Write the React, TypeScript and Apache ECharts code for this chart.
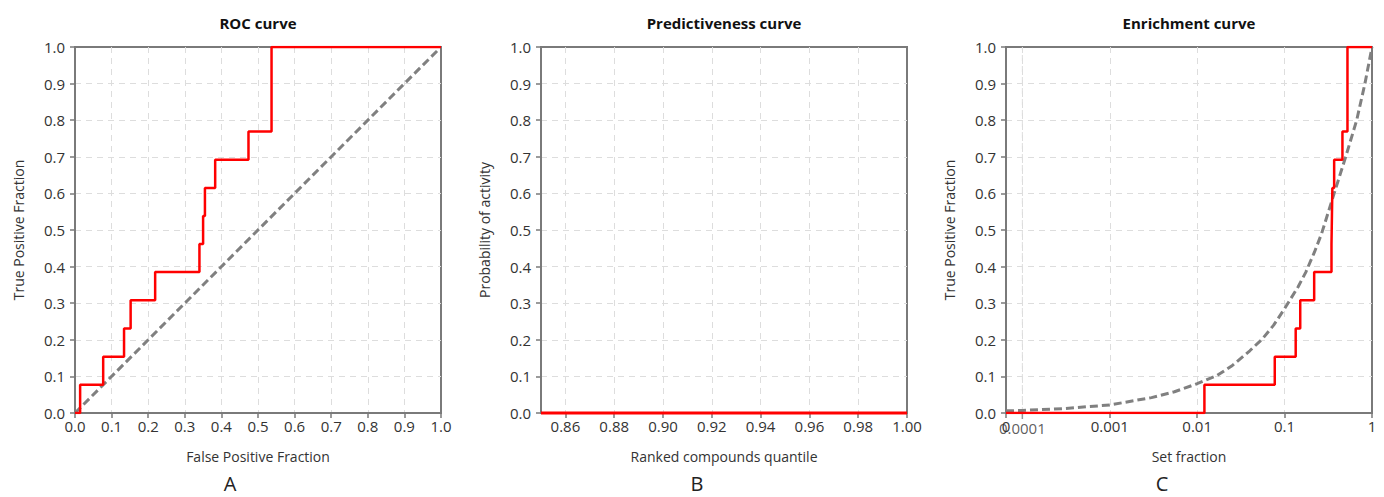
import React, { useEffect, useRef } from "react";
import * as echarts from "echarts";

// ROC curve (panel A)
const rocFpr = [0, 0.014, 0.077, 0.134, 0.152, 0.219, 0.34, 0.35, 0.355, 0.383, 0.474, 0.537, 1.0];
const rocTpr = [0, 0.077, 0.154, 0.231, 0.308, 0.385, 0.462, 0.538, 0.615, 0.692, 0.769, 1.0, 1.0];
const rocRandomFpr = [0, 1];
const rocRandomTpr = [0, 1];

// Predictiveness curve (panel B)
const predQuantile = [0.85, 1.0];
const predProbability = [0, 0];

// Enrichment curve (panel C)
const enrFraction = [6.5e-5, 0.0121, 0.0772, 0.134, 0.151, 0.218, 0.344, 0.348, 0.352, 0.369, 0.459, 0.524, 1.0];
const enrTpr = [0, 0.077, 0.154, 0.231, 0.308, 0.385, 0.462, 0.538, 0.615, 0.692, 0.769, 1.0, 1.0];
const enrRandomFraction = [
  6.5e-5, 1e-4, 3e-4, 0.001, 0.003, 0.0055, 0.01, 0.017, 0.0253, 0.04, 0.056, 0.075, 0.1, 0.143, 0.175, 0.22,
  0.265, 0.358, 0.5, 0.668, 0.83, 1,
];
const enrRandomTpr = [
  0.006, 0.007, 0.012, 0.022, 0.042, 0.058, 0.08, 0.103, 0.13, 0.17, 0.203, 0.24, 0.285, 0.345, 0.385, 0.44,
  0.49, 0.59, 0.7, 0.8, 0.9, 1.0,
];

// Axis ranges / tick labels
const unitMin = 0;
const unitMax = 1;
const unitStep = 0.1;
const quantileMin = 0.85;
const quantileMax = 1.0;
const quantileStep = 0.02;
const setFractionMin = 6.5e-5;
const setFractionMax = 1;
const setFractionMinLabel = "0";
const setFractionExtraTick = [0.0001];
const setFractionExtraLabel = ["0.0001"];

const titles = ["ROC curve", "Predictiveness curve", "Enrichment curve"];
const xNames = ["False Positive Fraction", "Ranked compounds quantile", "Set fraction"];
const yNames = ["True Positive Fraction", "Probability of activity", "True Positive Fraction"];
const panelLetters = ["A", "B", "C"];

const zip = (xs: number[], ys: number[]) => xs.map((x, i) => [x, ys[i]]);

const FONT = "'Open Sans', 'Noto Sans', sans-serif";
const AXIS_COLOR = "#7a7a7a";
const GRID_COLOR = "#dddddd";

export default function App() {
  const ref = useRef<HTMLDivElement>(null);

  useEffect(() => {
    document.body.style.margin = "0";
    if (!ref.current) return;
    const chart = echarts.init(ref.current, undefined, { renderer: "svg" });

    const gridLefts = [75, 541, 1006];
    const gridW = 366;
    const gridTop = 47;
    const gridH = 366;

    const axisLine = { show: true, onZero: false, lineStyle: { color: AXIS_COLOR, width: 2 } };
    const splitLine = {
      show: true,
      showMinLine: false,
      showMaxLine: false,
      lineStyle: { color: GRID_COLOR, type: [6, 5] as any, width: 1 },
    };
    const axisTick = { show: true, length: 5, lineStyle: { color: AXIS_COLOR, width: 1.5 } };
    const labelBase = { color: "#333", fontSize: 15, fontFamily: FONT };
    const nameStyle = { color: "#333", fontSize: 14, fontFamily: FONT };

    const grids = gridLefts.map((l) => ({
      left: l,
      top: gridTop,
      width: gridW,
      height: gridH,
      show: true,
      borderColor: AXIS_COLOR,
      borderWidth: 2,
      backgroundColor: "transparent",
    }));

    const yAxes = [0, 1, 2].map((i) => ({
      type: "value",
      gridIndex: i,
      min: unitMin,
      max: unitMax,
      interval: unitStep,
      name: yNames[i],
      nameLocation: "middle",
      nameGap: 50,
      nameTextStyle: nameStyle,
      axisLine,
      axisTick,
      splitLine,
      axisLabel: { ...labelBase, margin: 10, formatter: (v: number) => v.toFixed(1) },
    }));

    const xAxes: any[] = [
      {
        type: "value",
        gridIndex: 0,
        min: unitMin,
        max: unitMax,
        interval: unitStep,
        name: xNames[0],
        nameLocation: "middle",
        nameGap: 36,
        nameTextStyle: nameStyle,
        axisLine,
        axisTick,
        splitLine,
        axisLabel: { ...labelBase, margin: 5, formatter: (v: number) => v.toFixed(1) },
      },
      {
        type: "value",
        gridIndex: 1,
        min: quantileMin,
        max: quantileMax,
        minInterval: quantileStep,
        maxInterval: quantileStep,
        splitNumber: 7,
        name: xNames[1],
        nameLocation: "middle",
        nameGap: 36,
        nameTextStyle: nameStyle,
        axisLine,
        axisTick,
        splitLine,
        axisLabel: {
          ...labelBase,
          margin: 5,
          showMinLabel: false,
          formatter: (v: number) => v.toFixed(2),
        },
      },
      {
        type: "log",
        logBase: 10,
        gridIndex: 2,
        min: setFractionMin,
        max: setFractionMax,
        name: xNames[2],
        nameLocation: "middle",
        nameGap: 36,
        nameTextStyle: nameStyle,
        axisLine,
        axisTick,
        splitLine,
        axisLabel: {
          ...labelBase,
          margin: 5,
          showMinLabel: true,
          showMaxLabel: true,
          formatter: (v: number) => (v < 9e-5 ? setFractionMinLabel : String(parseFloat(v.toPrecision(3)))),
        },
      },
    ];

    const red = { color: "#ff0000", width: 2.5 };
    const grey = { color: "#808080", width: 3, type: [8, 4] as any };

    const series: any[] = [
      {
        type: "line",
        xAxisIndex: 0,
        yAxisIndex: 0,
        data: zip(rocRandomFpr, rocRandomTpr),
        symbol: "none",
        lineStyle: grey,
      },
      {
        type: "line",
        xAxisIndex: 0,
        yAxisIndex: 0,
        data: zip(rocFpr, rocTpr),
        step: "end",
        symbol: "none",
        lineStyle: red,
      },
      {
        type: "line",
        xAxisIndex: 1,
        yAxisIndex: 1,
        data: zip(predQuantile, predProbability),
        symbol: "none",
        clip: false,
        lineStyle: { color: "#ff0000", width: 3 },
      },
      // extra grid line for the 0.0001 tick of the log axis
      {
        type: "line",
        xAxisIndex: 2,
        yAxisIndex: 2,
        data: [
          [setFractionExtraTick[0], unitMin],
          [setFractionExtraTick[0], unitMax],
        ],
        symbol: "none",
        silent: true,
        z: 1,
        lineStyle: { color: GRID_COLOR, type: [6, 5], width: 1 },
      },
      // tick mark + label for 0.0001
      {
        type: "scatter",
        xAxisIndex: 2,
        yAxisIndex: 2,
        data: [[setFractionExtraTick[0], unitMin]],
        symbol: "rect",
        symbolSize: [1.5, 5],
        symbolOffset: [0, 3.5],
        clip: false,
        silent: true,
        z: 1,
        itemStyle: { color: AXIS_COLOR },
        label: {
          show: true,
          position: "bottom",
          distance: 1,
          formatter: () => setFractionExtraLabel[0],
          color: "#333",
          fontSize: 15,
          fontFamily: FONT,
        },
      },
      {
        type: "line",
        xAxisIndex: 2,
        yAxisIndex: 2,
        data: zip(enrRandomFraction, enrRandomTpr),
        symbol: "none",
        lineStyle: grey,
        z: 3,
      },
      {
        type: "line",
        xAxisIndex: 2,
        yAxisIndex: 2,
        data: zip(enrFraction, enrTpr),
        step: "end",
        symbol: "none",
        z: 4,
        lineStyle: red,
      },
    ];

    const titleCenters = gridLefts.map((l) => l + gridW / 2);
    const letterCenters = [230, 697, 1162];

    const graphic: any[] = [
      ...titles.map((t, i) => ({
        type: "text",
        x: titleCenters[i],
        y: 23,
        style: {
          text: t,
          align: "center",
          verticalAlign: "middle",
          fontSize: 15,
          fontWeight: "bold",
          fontFamily: FONT,
          fill: "#111",
        },
      })),
      ...panelLetters.map((t, i) => ({
        type: "text",
        x: letterCenters[i],
        y: 483,
        style: {
          text: t,
          align: "center",
          verticalAlign: "middle",
          fontSize: 20,
          lineHeight: 20,
          fontFamily: FONT,
          fill: "#222",
        },
      })),
    ];

    chart.setOption({
      animation: false,
      backgroundColor: "#ffffff",
      grid: grids,
      xAxis: xAxes,
      yAxis: yAxes,
      series,
      graphic,
    });

    return () => chart.dispose();
  }, []);

  return <div ref={ref} style={{ width: 1384, height: 497 }} />;
}
